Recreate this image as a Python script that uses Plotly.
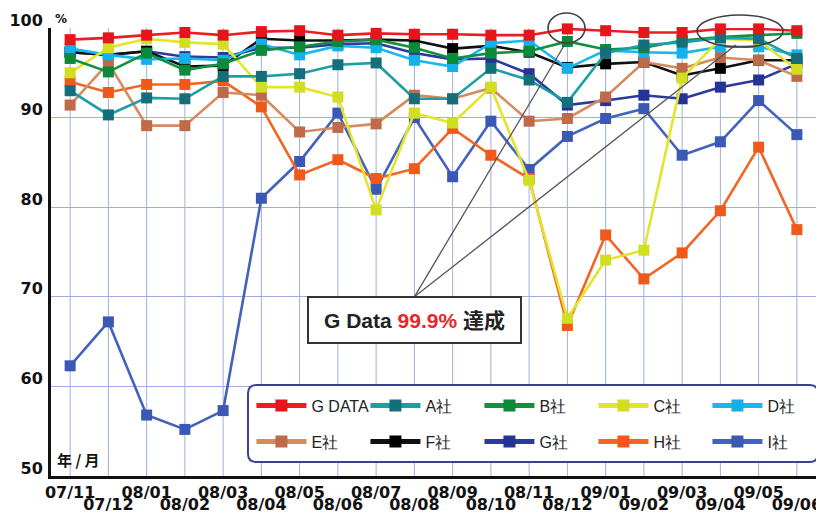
import plotly.graph_objects as go

categories = ["07/11", "07/12", "08/01", "08/02", "08/03", "08/04", "08/05", "08/06",
              "08/07", "08/08", "08/09", "08/10", "08/11", "08/12",
              "09/01", "09/02", "09/03", "09/04", "09/05", "09/06"]

gdata = [98.7, 98.9, 99.2, 99.5, 99.2, 99.6, 99.7, 99.2, 99.4, 99.3, 99.3, 99.2, 99.2, 99.9, 99.7, 99.5, 99.5, 99.9, 99.9, 99.7]
a_sha = [93.0, 90.3, 92.2, 92.1, 94.6, 94.6, 94.9, 95.9, 96.1, 92.1, 92.1, 95.5, 94.2, 91.7, 97.2, 98.1, 98.4, 98.9, 98.8, 96.6]
b_sha = [96.6, 95.1, 97.2, 95.3, 96.0, 97.5, 97.9, 98.5, 98.7, 97.8, 96.6, 97.2, 97.4, 98.5, 97.6, 97.8, 98.6, 99.0, 99.2, 99.4]
c_sha = [95.0, 97.8, 98.8, 98.4, 98.2, 93.4, 93.4, 92.3, 79.7, 90.5, 89.4, 93.4, 83.0, 67.6, 74.1, 75.2, 94.4, 98.8, 98.6, 95.4]
d_sha = [97.7, 97.0, 96.5, 96.6, 96.4, 98.2, 97.0, 98.0, 97.8, 96.4, 95.7, 98.3, 98.6, 95.5, 97.5, 97.3, 97.2, 97.9, 97.9, 97.0]
e_sha = [91.4, 96.1, 89.1, 89.1, 92.8, 92.5, 88.4, 88.9, 89.3, 92.5, 92.1, 93.3, 89.6, 89.9, 92.3, 96.2, 95.5, 96.7, 96.4, 94.6]
f_sha = [97.3, 97.0, 97.4, 95.7, 95.8, 98.8, 98.6, 98.6, 98.7, 98.6, 97.7, 98.0, 97.3, 95.6, 96.0, 96.2, 94.7, 95.5, 96.4, 96.4]
g_sha = [97.3, 97.0, 97.4, 96.8, 96.7, 97.8, 97.8, 98.2, 98.3, 97.2, 96.5, 96.6, 94.9, 91.4, 91.9, 92.5, 92.1, 93.4, 94.2, 96.0]
h_sha = [94.0, 92.8, 93.7, 93.7, 94.1, 91.2, 83.6, 85.3, 83.2, 84.3, 88.8, 85.8, 83.2, 66.8, 76.9, 72.0, 74.9, 79.6, 86.7, 77.5]
i_sha = [62.3, 67.2, 56.8, 55.2, 57.3, 81.0, 85.1, 90.5, 82.0, 90.0, 83.4, 89.6, 84.2, 87.9, 89.9, 91.0, 85.8, 87.3, 91.9, 88.1]

y_ticks = [50, 60, 70, 80, 90, 100]

# name, values, line colour, marker colour, legend, rank, x axis
series = [
    ("I社", i_sha, "#4262bd", "#3a58b4", "legend2", 10, "x"),
    ("H社", h_sha, "#f26522", "#ef5a1a", "legend2", 9, "x"),
    ("G社", g_sha, "#2b3a9c", "#253296", "legend2", 8, "x"),
    ("F社", f_sha, "#111111", "#000000", "legend2", 7, "x"),
    ("E社", e_sha, "#d68a60", "#bf6a48", "legend2", 6, "x"),
    ("D社", d_sha, "#1ab6ee", "#14b0ea", "legend", 5, "x"),
    ("C社", c_sha, "#e3e52c", "#d2de22", "legend", 4, "x"),
    ("B社", b_sha, "#11913f", "#0b8a3a", "legend", 3, "x"),
    ("A社", a_sha, "#1c9ea6", "#13707b", "legend", 2, "x"),
    ("G DATA", gdata, "#ec1c24", "#e8141c", "legend", 1, "x2"),
]

idx = list(range(len(categories)))

fig = go.Figure()
for name, vals, lc, mc, lg, rank, xa in series:
    fig.add_trace(go.Scatter(
        x=idx, y=vals, name=name, mode="lines+markers",
        line=dict(color=lc, width=2.6),
        marker=dict(symbol="square", size=11, color=mc),
        legend=lg, legendrank=rank, cliponaxis=False, xaxis=xa, yaxis="y",
    ))

tick_font = dict(family="DejaVu Sans", size=16, color="#111111", weight="bold")
grid_col = "#a3acdf"

even = [k for k in idx if k % 2 == 0]
odd = [k for k in idx if k % 2 == 1]

legend_common = dict(
    orientation="h", xanchor="left", yanchor="middle",
    entrywidth=49, entrywidthmode="pixels", itemwidth=50,
    font=dict(family="Liberation Sans", size=16, color="#222222"),
    bgcolor="rgba(0,0,0,0)", itemsizing="constant",
)

# the page body adds an 8px offset, so the figure is laid out 8px up/left
fig.update_layout(
    width=824, height=513,
    margin=dict(l=43, r=16, t=20, b=45, autoexpand=False),
    paper_bgcolor="white", plot_bgcolor="white",
    showlegend=True,
    xaxis=dict(
        range=[-0.5, 19.5], tickmode="array", tickvals=even,
        ticktext=[categories[k] for k in even],
        showgrid=False, zeroline=False, automargin=False,
        showline=True, linecolor="#111111", linewidth=3,
        ticks="", tickfont=tick_font, ticklabelstandoff=0, ticklabelshift=0,
    ),
    xaxis2=dict(
        range=[-0.5, 19.5], overlaying="x", anchor="y", side="bottom",
        tickmode="array", tickvals=odd,
        ticktext=[categories[k] for k in odd],
        showgrid=False, zeroline=False, showline=False, automargin=False,
        ticks="", tickfont=tick_font, ticklabelstandoff=17,
    ),
    yaxis=dict(
        range=[50, 100], tickmode="array", tickvals=y_ticks,
        ticktext=[str(v) for v in y_ticks],
        showgrid=True, gridcolor=grid_col, gridwidth=1, zeroline=False,
        showline=True, linecolor="#111111", linewidth=3, automargin=False,
        ticks="", tickfont=tick_font, ticklabelstandoff=2, ticklabelshift=-8,
    ),
    legend=dict(x=0.262, y=0.157, **legend_common),
    legend2=dict(x=0.262, y=0.077, **legend_common),
)

# vertical category gridlines
for k in idx:
    fig.add_shape(type="line", xref="x", yref="paper", x0=k, x1=k, y0=0, y1=1,
                  line=dict(color=grid_col, width=1), layer="below")

# rounded legend frame
x0, x1, y0, y1 = 0.2575, 1.0026, 0.031, 0.203
rx, ry = 0.011, 0.019
path = (f"M {x0+rx},{y0} L {x1-rx},{y0} Q {x1},{y0} {x1},{y0+ry} "
        f"L {x1},{y1-ry} Q {x1},{y1} {x1-rx},{y1} L {x0+rx},{y1} "
        f"Q {x0},{y1} {x0},{y1-ry} L {x0},{y0+ry} Q {x0},{y0} {x0+rx},{y0} Z")
fig.add_shape(type="path", xref="paper", yref="paper", path=path,
              fillcolor="white", line=dict(color="#3b3f96", width=2), layer="above")

# callout lines and ellipses
callout_from = (9, 70.0)
fig.add_shape(type="line", xref="x", yref="y", x0=callout_from[0], y0=callout_from[1],
              x1=12.95, y1=98.3, line=dict(color="#555555", width=1.3), layer="above")
fig.add_shape(type="line", xref="x", yref="y", x0=callout_from[0], y0=callout_from[1],
              x1=17.4, y1=98.1, line=dict(color="#555555", width=1.3), layer="above")
fig.add_shape(type="circle", xref="paper", yref="paper", x0=0.6497, x1=0.6980,
              y0=0.9665, y1=1.0335, line=dict(color="#404040", width=1.6), layer="above")
fig.add_shape(type="circle", xref="paper", yref="paper", x0=0.8444, x1=0.9569,
              y0=0.9576, y1=1.029, line=dict(color="#404040", width=1.6), layer="above")

fig.add_annotation(
    xref="x", yref="y", x=9, y=67.45, xanchor="center", yanchor="middle",
    text="<b>G Data <span style='color:#e8262b'>99.9%</span> 達成</b>",
    showarrow=False, bgcolor="white", bordercolor="#333333", borderwidth=2,
    borderpad=3, width=205, height=38,
    font=dict(family="Liberation Sans, Noto Sans CJK JP", size=21, color="#222222"),
)

fig.add_annotation(xref="paper", yref="paper", x=0.003, y=1.0, xanchor="left", yanchor="bottom",
                   text="<b>%</b>", showarrow=False,
                   font=dict(family="DejaVu Sans", size=12, color="#111111"))
fig.add_annotation(xref="paper", yref="paper", x=0.005, y=0.01, xanchor="left", yanchor="bottom",
                   text="<b>年 / 月</b>", showarrow=False,
                   font=dict(family="Noto Sans CJK JP", size=15, color="#111111"))

fig.write_html("out.html")
